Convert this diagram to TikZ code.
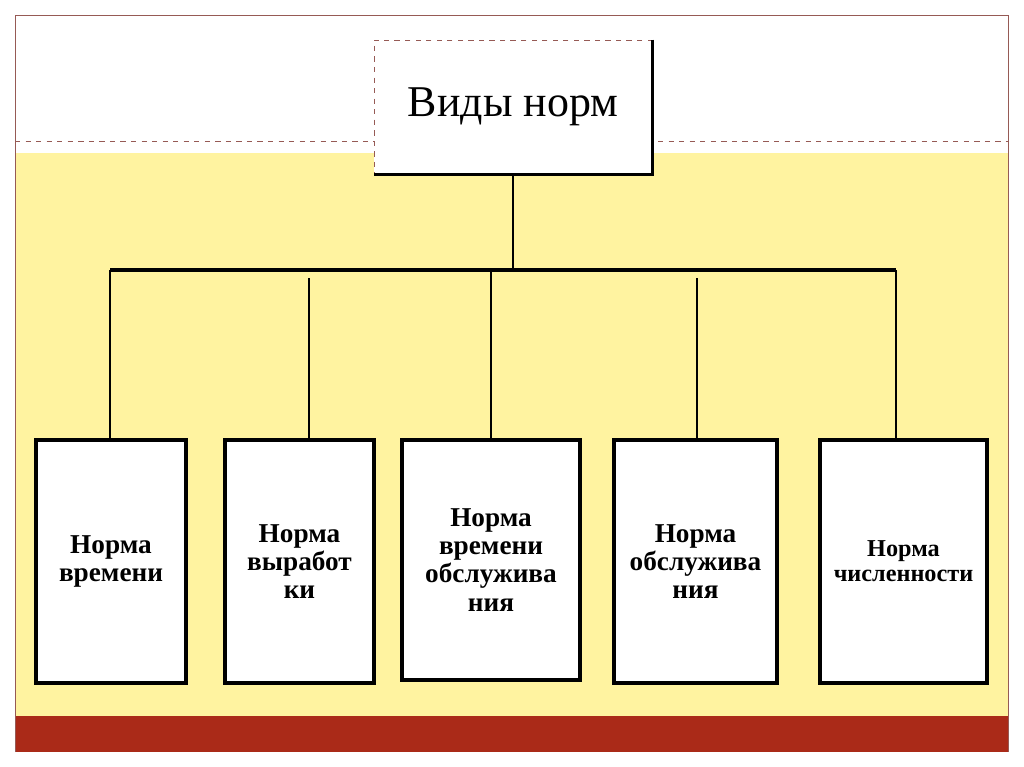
\documentclass[tikz,border=0pt]{standalone}
\usepackage{fontspec}
\setmainfont{Liberation Serif}
\usepackage{tikz}
\usetikzlibrary{positioning}

\definecolor{paleyellow}{RGB}{255,243,160}
\definecolor{barred}{RGB}{170,42,24}
\definecolor{framebrown}{RGB}{150,90,85}

\begin{document}
\begin{tikzpicture}[
    x=0.02cm, y=-0.02cm,
    every node/.style={inner sep=2pt},
    topbox/.style={draw=framebrown, dashed, thin, fill=white, align=center,
        minimum width=5.56cm, minimum height=2.68cm, font=\fontsize{25}{30}\selectfont},
    normbox/.style={draw=black, line width=2pt, fill=white, align=center,
        minimum height=4.86cm, font=\bfseries\fontsize{15.5}{16}\selectfont},
    link/.style={line width=1pt},
    bus/.style={line width=2pt}
]
    % background
    \fill[white] (0,0) rectangle (1024,767);
    \useasboundingbox (0,0) rectangle (1024,767);
    \fill[paleyellow] (15,153) rectangle (1008,716);
    \fill[barred] (15,716) rectangle (1008,752);
    \draw[framebrown, dashed, thin] (15,141) -- (1008,141);
    \draw[framebrown, thin] (15,752) -- (15,15) -- (1008,15) -- (1008,752);

    % top box
    \node[topbox] (kinds) at (513,107) {Виды норм};
    \draw[line width=1.8pt] (kinds.north east) -- (kinds.south east) -- (kinds.south west);

    % bottom boxes
    \node[normbox, minimum width=3cm] (time) at (111,561.5) {Норма\\времени};
    \node[normbox, minimum width=2.98cm] (output) at (299.5,561.5) {Норма\\выработ\\ки};
    \node[normbox, minimum width=3.56cm, minimum height=4.8cm] (servtime) at (491,560) {Норма\\времени\\обслужива\\ния};
    \node[normbox, minimum width=3.26cm] (service) at (695.5,561.5) {Норма\\обслужива\\ния};
    \node[normbox, minimum width=3.34cm, font=\bfseries\fontsize{13.8}{14.3}\selectfont] (staff) at (903.5,561.5) {Норма\\численности};

    % connectors
    \coordinate (busleft) at (110,270);
    \coordinate (busright) at (896,270);
    \draw[link] (kinds.south) -- (kinds.south |- busleft);
    \draw[bus] (busleft) -- (busright);
    \draw[link] (busleft) -- (busleft |- time.north);
    \draw[link] (309,278) coordinate (drop2) -- (drop2 |- output.north);
    \draw[link] (servtime.north |- busleft) -- (servtime.north);
    \draw[link] (697,278) coordinate (drop4) -- (drop4 |- service.north);
    \draw[link] (busright) -- (busright |- staff.north);
\end{tikzpicture}
\end{document}
